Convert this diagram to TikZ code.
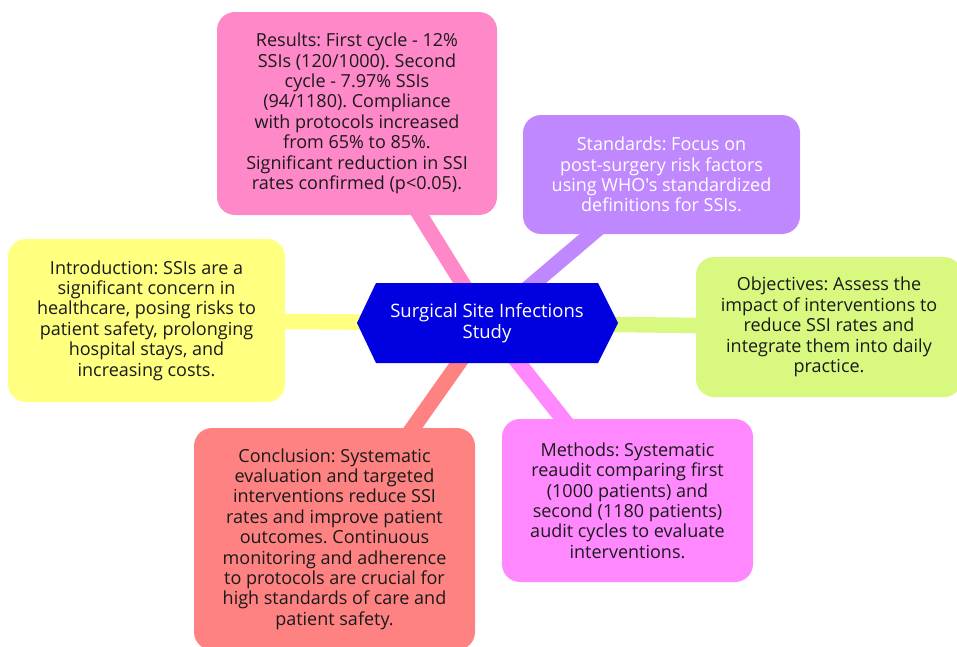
\documentclass[tikz,border=0pt]{standalone}
\usepackage{fontspec}
\setmainfont{Open Sans}[Ligatures=TeXOff]
\usetikzlibrary{backgrounds}
\frenchspacing
\definecolor{cres}{HTML}{FF88C8}
\definecolor{cstd}{HTML}{C088FF}
\definecolor{cobj}{HTML}{D8F880}
\definecolor{cint}{HTML}{FFFF80}
\definecolor{ccon}{HTML}{FF8282}
\definecolor{cmet}{HTML}{FF88FF}
\definecolor{chub}{HTML}{0000E0}
\definecolor{txt}{HTML}{1A1A1A}
\tikzset{
  box/.style={rounded corners=18pt, align=center, font=\fontsize{18}{20.4}\selectfont, text=txt, inner sep=0pt},
  conn/.style={line width=15.5pt},
  hubtext/.style={align=center, font=\fontsize{18.5}{21.6}\selectfont, text=white, inner sep=0pt}
}
\begin{document}
\begin{tikzpicture}[x=1pt,y=-1pt]
\useasboundingbox (0,0) rectangle (957,646);
% hub hexagon
\fill[chub] (357,323) -- (376,283) -- (598,283) -- (618,323) -- (598,363) -- (376,363) -- cycle;
\node[hubtext] (hub) at (487,323) {Surgical Site Infections\\Study};
% boxes
\node[box, fill=cres, minimum width=280pt, minimum height=203pt] (res) at (357,113.5)
 {Results: First cycle - 12\%\\SSIs (120/1000). Second\\cycle - 7.97\% SSIs\\(94/1180). Compliance\\with protocols increased\\from 65\% to 85\%.\\Significant reduction in SSI\\rates confirmed (p<0.05).};
\node[box, fill=cstd, text=white, minimum width=277pt, minimum height=119pt] (std) at (661.5,174.5)
 {Standards: Focus on\\post-surgery risk factors\\using WHO's standardized\\definitions for SSIs.};
\node[box, fill=cint, minimum width=277pt, minimum height=163pt] (int) at (146.5,320.5)
 {Introduction: SSIs are a\\significant concern in\\healthcare, posing risks to\\patient safety, prolonging\\hospital stays, and\\increasing costs.};
\node[box, fill=cobj, minimum width=266pt, minimum height=140pt] (obj) at (829,327)
 {Objectives: Assess the\\impact of interventions to\\reduce SSI rates and\\integrate them into daily\\practice.};
\node[box, fill=ccon, minimum width=281pt, minimum height=222pt] (con) at (334.5,539)
 {Conclusion: Systematic\\evaluation and targeted\\interventions reduce SSI\\rates and improve patient\\outcomes. Continuous\\monitoring and adherence\\to protocols are crucial for\\high standards of care and\\patient safety.};
\node[box, fill=cmet, minimum width=251pt, minimum height=163pt] (met) at (627.5,500.5)
 {Methods: Systematic\\reaudit comparing first\\(1000 patients) and\\second (1180 patients)\\audit cycles to evaluate\\interventions.};
% connectors
\begin{pgfonlayer}{background}
\draw[conn, cres] (hub.center) -- (res.center);
\draw[conn, cstd] (hub.center) -- (std.center);
\draw[conn, cint] (hub.center) -- (int.center);
\draw[conn, cobj] (hub.center) -- (obj.center);
\draw[conn, ccon] (hub.center) -- (con.center);
\draw[conn, cmet] (hub.center) -- (met.center);
\end{pgfonlayer}
\end{tikzpicture}
\end{document}
